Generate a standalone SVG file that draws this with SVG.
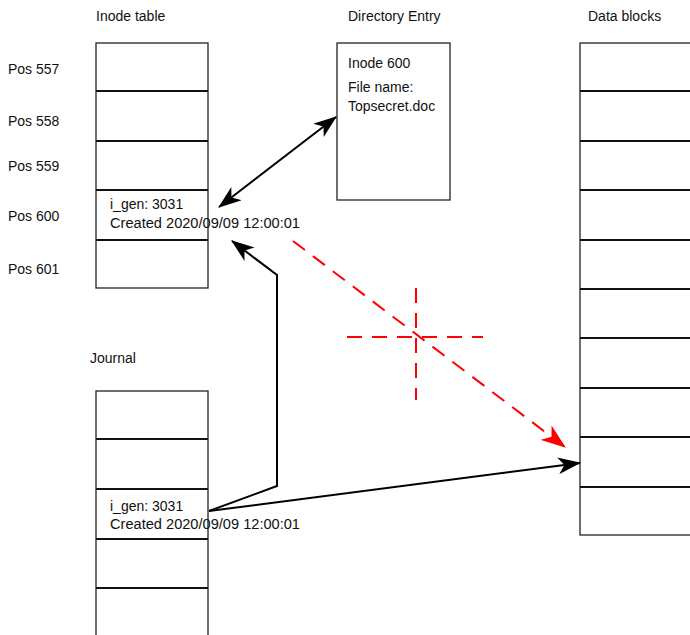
<svg xmlns="http://www.w3.org/2000/svg" width="690" height="635" viewBox="0 0 690 635">
<style>
text{font-family:"Liberation Sans",Arial,sans-serif;font-size:14px;fill:#111}
.box{fill:#fff;stroke:#222;stroke-width:1.3}
.div{stroke:#111;stroke-width:2}
.conn{fill:none;stroke:#000;stroke-width:2}
.red{fill:none;stroke:#f00;stroke-width:2;stroke-dasharray:15 10}
</style>
<defs>
<marker id="ah" viewBox="0 0 22 16" refX="21" refY="8" markerWidth="23" markerHeight="17" markerUnits="userSpaceOnUse" orient="auto-start-reverse">
<path d="M0,0 L22,8 L0,16 L6,8 Z" fill="#000"/>
</marker>
<marker id="ahr" viewBox="0 0 22 16" refX="21" refY="8" markerWidth="25" markerHeight="18" markerUnits="userSpaceOnUse" orient="auto">
<path d="M0,0 L22,8 L0,16 L6,8 Z" fill="#f00"/>
</marker>
</defs>

<g id="inode-table">
<text x="96" y="21">Inode table</text>
<rect class="box" x="96" y="43" width="112" height="245"/>
<line class="div" x1="96" y1="91" x2="208" y2="91"/>
<line class="div" x1="96" y1="141" x2="208" y2="141"/>
<line class="div" x1="96" y1="190" x2="208" y2="190"/>
<line class="div" x1="96" y1="240" x2="208" y2="240"/>
<text x="8" y="74">Pos 557</text>
<text x="8" y="126">Pos 558</text>
<text x="8" y="171">Pos 559</text>
<text x="8" y="221">Pos 600</text>
<text x="8" y="274">Pos 601</text>
<text x="110" y="209">i_gen: 3031</text>
<text x="110" y="228" textLength="190" lengthAdjust="spacingAndGlyphs">Created 2020/09/09 12:00:01</text>
</g>

<g id="directory-entry">
<text x="348" y="21">Directory Entry</text>
<rect class="box" x="337" y="43" width="113" height="157"/>
<text x="348" y="68">Inode 600</text>
<text x="348" y="92">File name:</text>
<text x="348" y="111">Topsecret.doc</text>
</g>

<g id="data-blocks">
<text x="588" y="21">Data blocks</text>
<rect class="box" x="580" y="43" width="120" height="492"/>
<line class="div" x1="580" y1="91" x2="700" y2="91"/>
<line class="div" x1="580" y1="141" x2="700" y2="141"/>
<line class="div" x1="580" y1="190" x2="700" y2="190"/>
<line class="div" x1="580" y1="240" x2="700" y2="240"/>
<line class="div" x1="580" y1="289" x2="700" y2="289"/>
<line class="div" x1="580" y1="338" x2="700" y2="338"/>
<line class="div" x1="580" y1="388" x2="700" y2="388"/>
<line class="div" x1="580" y1="437" x2="700" y2="437"/>
<line class="div" x1="580" y1="487" x2="700" y2="487"/>
</g>

<g id="journal">
<text x="90" y="363">Journal</text>
<rect class="box" x="96" y="391" width="112" height="260"/>
<line class="div" x1="96" y1="439" x2="208" y2="439"/>
<line class="div" x1="96" y1="489" x2="208" y2="489"/>
<line class="div" x1="96" y1="539" x2="208" y2="539"/>
<line class="div" x1="96" y1="588" x2="208" y2="588"/>
<text x="110" y="511">i_gen: 3031</text>
<text x="110" y="529" textLength="190" lengthAdjust="spacingAndGlyphs">Created 2020/09/09 12:00:01</text>
</g>

<g id="connectors">
<line class="conn" x1="219" y1="207" x2="336" y2="117" marker-start="url(#ah)" marker-end="url(#ah)"/>
<polyline class="conn" points="209,511 277,486 277,275 232,241" marker-end="url(#ah)"/>
<line class="conn" x1="209" y1="511" x2="580" y2="463" marker-end="url(#ah)"/>
<line class="red" x1="293" y1="241" x2="565" y2="447" marker-end="url(#ahr)"/>
<line class="red" x1="347" y1="337" x2="483" y2="337"/>
<line class="red" x1="416" y1="288" x2="416" y2="400"/>
</g>
</svg>
